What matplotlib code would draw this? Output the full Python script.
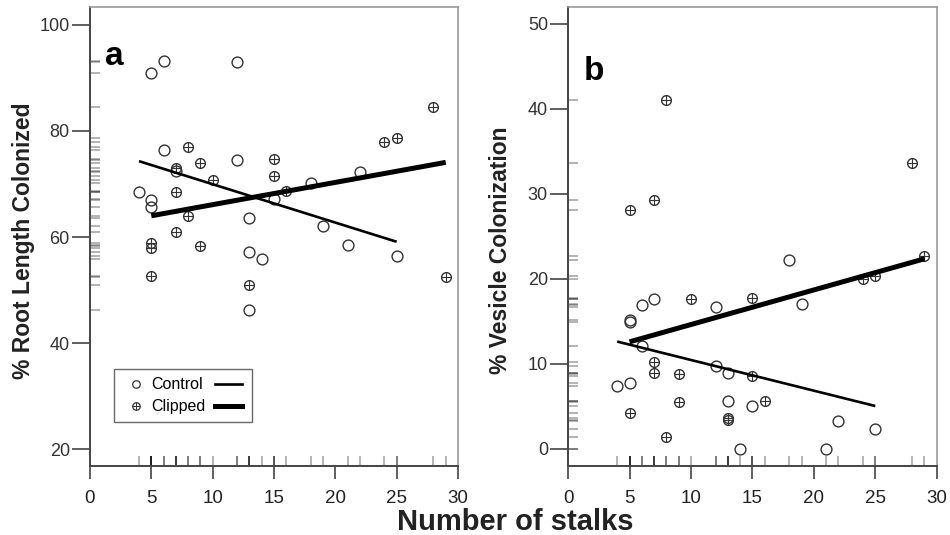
import matplotlib
matplotlib.use("Agg")
import matplotlib.pyplot as plt
from matplotlib.lines import Line2D
from matplotlib.legend_handler import HandlerTuple

plt.rcParams["font.family"] = ["Liberation Sans", "DejaVu Sans"]

INK = "#333333"
FRAME = "#999999"

# panel a: root length colonized (%) against number of stalks
ctrl_stalks_a = [5, 6, 12, 6, 12, 22, 18, 15, 4, 5, 5, 13, 19, 13, 14, 21, 25, 13, 7]
ctrl_root = [90.9, 93.2, 93.0, 76.5, 74.5, 72.3, 70.1, 67.2, 68.4, 66.9,
             65.7, 63.5, 62.1, 57.1, 55.9, 58.5, 56.4, 46.2, 72.5]
clip_stalks_a = [28, 24, 25, 8, 9, 7, 15, 15, 10, 16, 7, 8, 7, 5, 5, 9, 29, 5, 13]
clip_root = [84.5, 77.9, 78.6, 77.0, 74.0, 73.1, 74.7, 71.5, 70.8, 68.7,
             68.4, 64.0, 61.0, 58.9, 58.0, 58.3, 52.5, 52.7, 51.0]

# panel b: vesicle colonization (%) against number of stalks
ctrl_stalks_b = [18, 7, 6, 12, 19, 5, 5, 6, 4, 5, 12, 13, 13, 15, 14, 21, 22, 25]
ctrl_vesicle = [22.2, 17.7, 16.9, 16.7, 17.1, 15.2, 14.9, 12.1, 7.4, 7.8,
                9.8, 8.9, 5.6, 5.0, 0.0, 0.0, 3.25, 2.3]
clip_stalks_b = [8, 28, 7, 5, 29, 24, 25, 10, 15, 7, 7, 9, 15, 9, 16, 5, 13, 13, 8]
clip_vesicle = [41.1, 33.7, 29.3, 28.1, 22.7, 20.0, 20.3, 17.6, 17.8, 10.2,
                8.9, 8.8, 8.6, 5.5, 5.7, 4.2, 3.6, 3.4, 1.45]

# regression lines (intercept, slope)
fit_a_ctrl = (77.2, -0.724)
fit_a_clip = (61.9, 0.42)
fit_b_ctrl = (14.08, -0.361)
fit_b_clip = (10.57, 0.407)

x_ticks = [0, 5, 10, 15, 20, 25, 30]
y_ticks_a = [20, 40, 60, 80, 100]
y_ticks_b = [0, 10, 20, 30, 40, 50]


def fit_line(ax, xs, fit, lw):
    lo, hi = min(xs), max(xs)
    b0, b1 = fit
    ax.plot([lo, hi], [b0 + b1 * lo, b0 + b1 * hi], color="black", lw=lw,
            solid_capstyle="butt", zorder=4)


def draw_panel(ax, cx, cy, kx, ky, fit_c, fit_k, ylim, yticks, ylabel, letter, letter_y):
    ax.set_xlim(0, 30)
    ax.set_ylim(*ylim)

    ax.plot(cx, cy, "o", mfc="none", mec=INK, ms=7.8, mew=1.0, zorder=3)
    ax.plot(kx, ky, "o", mfc="none", mec=INK, ms=7.0, mew=1.0, zorder=3)
    ax.plot(kx, ky, "+", color=INK, ms=7.0, mew=0.8, zorder=3)

    fit_line(ax, cx, fit_c, 1.9)
    fit_line(ax, kx, fit_k, 3.6)

    # rugs along both axes, translucent so repeated values read darker
    ax.vlines(cx + kx, 0, 0.022, transform=ax.get_xaxis_transform(),
              color="black", alpha=0.35, lw=1.2)
    ax.hlines(cy + ky, 0, 0.027, transform=ax.get_yaxis_transform(),
              color="black", alpha=0.35, lw=1.2)

    for side in ("left", "bottom"):
        ax.spines[side].set_color("#444444")
        ax.spines[side].set_linewidth(1.4)
    for side in ("top", "right"):
        ax.spines[side].set_color(FRAME)
        ax.spines[side].set_linewidth(1.2)

    ax.set_xticks(x_ticks)
    ax.set_yticks(yticks)
    ax.tick_params(axis="y", direction="out", length=13, width=1.2, color="#444444",
                   labelsize=13, labelcolor=INK, pad=1.5)
    ax.tick_params(axis="x", direction="out", length=9, width=1.2, color="#444444",
                   labelsize=13.5, labelcolor="#222222", pad=8)

    ax.set_ylabel(ylabel, fontsize=16.5, fontweight="bold", color="#222222")
    ax.text(0.042, letter_y, letter, transform=ax.transAxes, fontsize=24,
            fontweight="bold", color="black")


fig = plt.figure(figsize=(9.5, 5.35), dpi=100)
ax_a = fig.add_axes([0.0947, 0.129, 0.3874, 0.858])
ax_b = fig.add_axes([0.598, 0.129, 0.388, 0.858])

draw_panel(ax_a, ctrl_stalks_a, ctrl_root, clip_stalks_a, clip_root,
           fit_a_ctrl, fit_a_clip, (16.8, 103.4), y_ticks_a,
           "% Root Length Colonized", "a", 0.874)
draw_panel(ax_b, ctrl_stalks_b, ctrl_vesicle, clip_stalks_b, clip_vesicle,
           fit_b_ctrl, fit_b_clip, (-2.0, 52.0), y_ticks_b,
           "% Vesicle Colonization", "b", 0.84)

ax_a.yaxis.set_label_coords(-0.15, 0.49)
ax_b.yaxis.set_label_coords(-0.152, 0.47)

# legend: marker column then line column
h_ctrl = Line2D([], [], ls="none", marker="o", mfc="none", mec=INK, ms=5.4, mew=0.9)
h_clip_o = Line2D([], [], ls="none", marker="o", mfc="none", mec=INK, ms=5.4, mew=0.9)
h_clip_p = Line2D([], [], ls="none", marker="+", color=INK, ms=5.4, mew=0.7)
h_ctrl_line = Line2D([], [], color="black", lw=1.9)
h_clip_line = Line2D([], [], color="black", lw=3.6)
leg = ax_a.legend([h_ctrl, (h_clip_o, h_clip_p), h_ctrl_line, h_clip_line],
                  ["Control", "Clipped", "", ""], ncol=2,
                  handler_map={tuple: HandlerTuple(ndivide=1, pad=0)},
                  loc="lower left", bbox_to_anchor=(0.066, 0.095), borderaxespad=0,
                  fontsize=11.5, handlelength=1.7, handletextpad=0.1,
                  columnspacing=0.6, labelspacing=0.45, borderpad=0.5,
                  frameon=True, fancybox=False)
leg.get_frame().set_edgecolor("#444444")
leg.get_frame().set_linewidth(1.0)

fig.text(0.542, 0.025, "Number of stalks", ha="center", va="center",
         fontsize=21, fontweight="bold", color="#222222")

fig.savefig("out.png", dpi=100)
